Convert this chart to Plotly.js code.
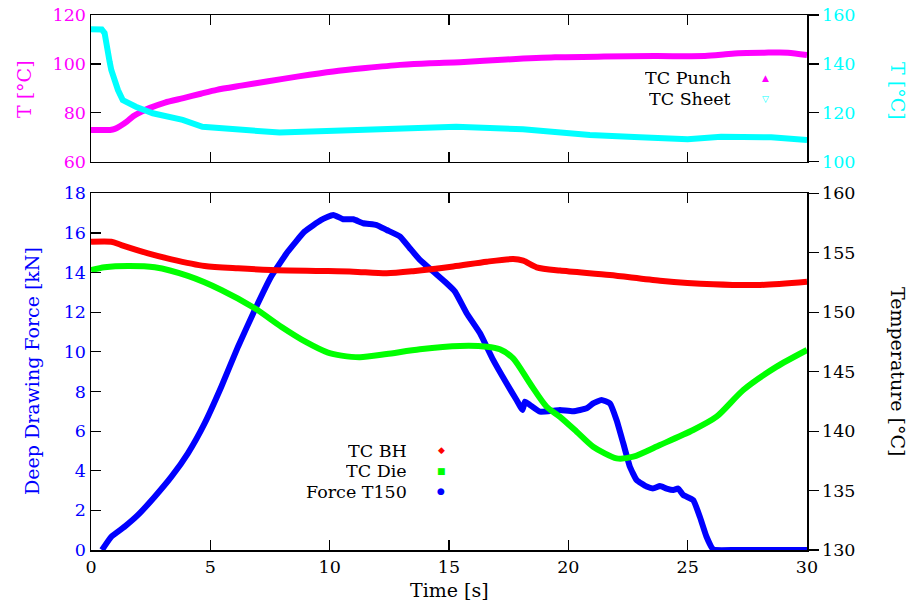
<!DOCTYPE html>
<html>
<head>
<meta charset="utf-8">
<script src="https://cdn.plot.ly/plotly-3.0.1.min.js"></script>
<style>html,body{margin:0;padding:0;background:#fff;}#chart{width:915px;height:608px;}</style>
</head>
<body>
<div id="chart"></div>
<script>
// ---- Top panel: temperatures ----
const punchTime = [0, 0.4, 0.8, 1.0, 1.21, 1.5, 1.77, 2.1, 2.47, 3.1, 3.87, 4.6, 5.27, 6.3, 7.36, 8.7, 10.15, 11.5, 12.95, 14.2, 15.46, 17.4, 19.44, 21.5, 23.63, 25.72, 26.5, 27.12, 28.2, 29.2, 30];
const punchTemp = [73, 73, 73, 73.4, 74.5, 76.4, 78.6, 80.4, 82.0, 84.2, 86.0, 87.8, 89.4, 91.1, 92.8, 94.9, 96.9, 98.3, 99.6, 100.3, 100.7, 101.8, 102.7, 103.0, 103.2, 103.2, 103.8, 104.4, 104.6, 104.6, 103.6];

const sheetTime = [0, 0.2, 0.45, 0.57, 0.64, 0.71, 0.78, 0.85, 0.96, 1.13, 1.33, 1.6, 1.88, 2.59, 3.84, 4.67, 6.06, 7.9, 10.2, 13.0, 15.3, 18.1, 20.9, 23.0, 25.0, 26.4, 28.5, 30];
const sheetTemp = [154.2, 154.2, 154.1, 152.6, 147.7, 144.3, 140.9, 137.5, 133.4, 129.3, 125.2, 123.6, 122.5, 119.8, 117.1, 114.3, 113.3, 111.9, 112.7, 113.3, 114.3, 113.3, 110.9, 110.0, 109.2, 110.2, 110.0, 108.9];

// ---- Bottom panel: force and temperatures ----
const forceTime = [0.46, 0.85, 1.41, 1.97, 2.67, 3.37, 4.06, 4.76, 5.46, 6.16, 6.86, 7.55, 8.25, 8.95, 9.65, 10.15, 10.57, 10.99, 11.41, 11.97, 12.39, 12.95, 13.36, 13.78, 14.34, 14.9, 15.25, 15.74, 16.3, 16.85, 17.41, 17.83, 18.08, 18.18, 18.39, 18.81, 19.37, 19.65, 20.2, 20.77, 21.04, 21.39, 21.74, 22.02, 22.3, 22.58, 22.86, 23.28, 23.56, 23.84, 24.12, 24.4, 24.6, 24.81, 25.23, 25.51, 25.79, 26.07, 27.0, 28.0, 29.0, 30];
const forceKN = [0, 0.67, 1.18, 1.77, 2.69, 3.70, 4.88, 6.39, 8.24, 10.26, 12.11, 13.8, 15.06, 16.07, 16.66, 16.91, 16.69, 16.69, 16.49, 16.4, 16.15, 15.82, 15.23, 14.64, 14.05, 13.46, 13.04, 11.95, 10.94, 9.59, 8.41, 7.57, 7.07, 7.49, 7.32, 6.98, 7.03, 7.07, 7.0, 7.15, 7.4, 7.57, 7.4, 6.56, 5.39, 4.2, 3.53, 3.2, 3.11, 3.23, 3.1, 3.03, 3.1, 2.78, 2.52, 1.68, 0.67, 0.03, 0, 0, 0, 0];

const bhTime = [0, 0.85, 1.27, 2.39, 3.37, 4.76, 6.16, 7.55, 9.65, 10.99, 12.39, 13.5, 15.18, 16.58, 17.69, 18.11, 18.67, 19.65, 21.74, 23.84, 26.07, 28.03, 30];
const bhTemp = [155.93, 155.93, 155.65, 154.95, 154.45, 153.89, 153.69, 153.55, 153.47, 153.41, 153.27, 153.45, 153.85, 154.25, 154.47, 154.33, 153.78, 153.5, 153.13, 152.65, 152.35, 152.29, 152.57];

const dieTime = [0, 0.57, 1.55, 2.67, 4.06, 5.46, 6.86, 7.97, 9.0, 9.93, 10.5, 11.27, 12.39, 13.78, 15.46, 16.58, 17.13, 17.69, 18.39, 19.09, 19.65, 20.35, 21.04, 22.02, 22.72, 23.84, 25.23, 26.21, 27.33, 28.73, 30];
const dieTemp = [153.55, 153.78, 153.89, 153.78, 153.05, 151.87, 150.33, 148.78, 147.5, 146.6, 146.35, 146.21, 146.48, 146.88, 147.16, 147.1, 146.88, 146.12, 144.02, 142.05, 141.2, 139.95, 138.69, 137.71, 137.85, 138.83, 140.09, 141.21, 143.46, 145.42, 146.82];

const xTicks = [0, 5, 10, 15, 20, 25, 30];

// legend labels and their key symbols
const topLegendNames = ['TC Punch', 'TC Sheet'];
const topLegendSymbols = ['▲', '▽'];
const botLegendNames = ['TC BH', 'TC Die', 'Force T150'];
const botLegendSymbols = ['◆', '■', '●'];

const FONT = 'DejaVu Serif, Liberation Serif, serif';
const TICK = 17.5, TXT = 19, LEG = 17.5;
const MAG = '#ff00ff', CYA = '#00ffff', RED = '#ff0000', GRN = '#00ff00', BLU = '#0000ff';
const LW = 6;

const traces = [
  {x: punchTime, y: punchTemp, xaxis: 'x2', yaxis: 'y3', mode: 'lines', line: {color: MAG, width: LW, shape: 'spline', smoothing: 0.7}, name: topLegendNames[0], showlegend: false},
  {x: sheetTime, y: sheetTemp, xaxis: 'x2', yaxis: 'y4', mode: 'lines', line: {color: CYA, width: LW}, name: topLegendNames[1], showlegend: false},
  {x: bhTime, y: bhTemp, xaxis: 'x', yaxis: 'y2', mode: 'lines', line: {color: RED, width: LW, shape: 'spline', smoothing: 0.7}, name: botLegendNames[0], showlegend: false},
  {x: dieTime, y: dieTemp, xaxis: 'x', yaxis: 'y2', mode: 'lines', line: {color: GRN, width: LW, shape: 'spline', smoothing: 0.7}, name: botLegendNames[1], showlegend: false},
  {x: forceTime, y: forceKN, xaxis: 'x', yaxis: 'y', mode: 'lines', line: {color: BLU, width: LW, shape: 'spline', smoothing: 0.4}, name: botLegendNames[2], showlegend: false}
];

const axBase = {showgrid: false, zeroline: false, showline: true, linecolor: '#000', linewidth: 1.5, tickcolor: '#000', tickwidth: 1.2, ticklen: 10};

// paper coordinate helpers (plot area: 91..807 px horizontally, 15..550 px vertically)
const px = v => (v - 91) / 716;
const py = v => (550 - v) / 535;

const ann = [
  {text: 'Deep Drawing Force [kN]', x: px(32), y: py(371), textangle: -90, font: {color: BLU}},
  {text: 'Temperature [°C]', x: px(898), y: py(371), textangle: 90, font: {color: '#000'}},
  {text: 'T [°C]', x: px(24), y: py(89), textangle: -90, font: {color: MAG}},
  {text: 'T [°C]', x: px(898), y: py(91), textangle: 90, font: {color: CYA}},
  {text: 'Time [s]', x: px(449), y: py(590), textangle: 0, font: {color: '#000'}}
].map(a => ({text: a.text, xref: 'paper', yref: 'paper', x: a.x, y: a.y, textangle: a.textangle, xanchor: 'center', yanchor: 'middle', showarrow: false, font: {family: FONT, size: TXT, color: a.font.color}}));

const topCols = [MAG, CYA], botCols = [RED, GRN, BLU];
const topY = [78.3, 99.3], botY = [450.7, 471.2, 491.7];
topLegendNames.forEach((n, i) => {
  ann.push({text: n, xref: 'paper', yref: 'paper', x: px(733), y: py(topY[i]), xanchor: 'right', yanchor: 'middle', height: 20, showarrow: false, font: {family: FONT, size: LEG, color: '#000'}});
  ann.push({text: topLegendSymbols[i], xref: 'paper', yref: 'paper', x: px(765.5), y: py(topY[i] - 0.5), xanchor: 'center', yanchor: 'middle', showarrow: false, font: {family: 'DejaVu Sans', size: 9, color: topCols[i]}});
});
botLegendNames.forEach((n, i) => {
  ann.push({text: n, xref: 'paper', yref: 'paper', x: px(408.5), y: py(botY[i]), xanchor: 'right', yanchor: 'middle', height: 20, showarrow: false, font: {family: FONT, size: LEG, color: '#000'}});
  ann.push({text: botLegendSymbols[i], xref: 'paper', yref: 'paper', x: px(441), y: py(botY[i] - 0.5), xanchor: 'center', yanchor: 'middle', showarrow: false, font: {family: 'DejaVu Sans', size: 9, color: botCols[i]}});
});

const layout = {
  width: 915, height: 608,
  margin: {l: 91, r: 108, t: 15, b: 58},
  paper_bgcolor: '#fff', plot_bgcolor: '#fff',
  font: {family: FONT, size: TICK, color: '#000'},
  showlegend: false,
  xaxis: Object.assign({}, axBase, {domain: [0, 1], anchor: 'y', range: [0, 30], tickvals: xTicks, ticks: 'inside', mirror: 'ticks', tickfont: {family: FONT, size: TICK, color: '#000'}}),
  yaxis: Object.assign({}, axBase, {domain: [0, 0.6667], anchor: 'x', range: [0, 18], dtick: 2, ticks: 'inside', tickfont: {family: FONT, size: TICK, color: BLU}}),
  yaxis2: Object.assign({}, axBase, {overlaying: 'y', side: 'right', anchor: 'x', range: [130, 160], dtick: 5, ticks: 'outside', tickfont: {family: FONT, size: TICK, color: '#000'}}),
  yaxis5: Object.assign({}, axBase, {overlaying: 'y', side: 'right', anchor: 'x', range: [130, 160], dtick: 5, ticks: 'inside', showticklabels: false, showline: false}),
  xaxis2: Object.assign({}, axBase, {domain: [0, 1], anchor: 'y3', range: [0, 30], tickvals: xTicks, ticks: 'inside', mirror: 'ticks', showticklabels: false}),
  yaxis3: Object.assign({}, axBase, {domain: [0.7258, 1], anchor: 'x2', range: [60, 120], dtick: 20, ticks: 'inside', tickfont: {family: FONT, size: TICK, color: MAG}}),
  yaxis4: Object.assign({}, axBase, {overlaying: 'y3', side: 'right', anchor: 'x2', range: [100, 160], dtick: 20, ticks: 'outside', tickfont: {family: FONT, size: TICK, color: CYA}}),
  yaxis6: Object.assign({}, axBase, {overlaying: 'y3', side: 'right', anchor: 'x2', range: [100, 160], dtick: 20, ticks: 'inside', showticklabels: false, showline: false}),
  annotations: ann
};

Plotly.newPlot('chart', traces, layout, {displayModeBar: false, staticPlot: true});
</script>
</body>
</html>
